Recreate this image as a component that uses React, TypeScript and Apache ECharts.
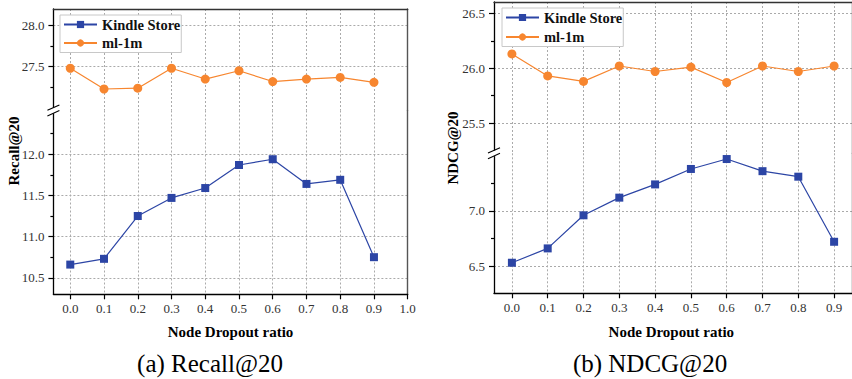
import React, { useEffect, useRef } from "react";
import * as echarts from "echarts";

// ---------- data ----------
const xValues = [0.0, 0.1, 0.2, 0.3, 0.4, 0.5, 0.6, 0.7, 0.8, 0.9];
const xTicksLeft = [0.0, 0.1, 0.2, 0.3, 0.4, 0.5, 0.6, 0.7, 0.8, 0.9, 1.0];
const xTicksRight = [0.0, 0.1, 0.2, 0.3, 0.4, 0.5, 0.6, 0.7, 0.8, 0.9];

const recallKindle = [10.66, 10.73, 11.25, 11.47, 11.59, 11.87, 11.94, 11.64, 11.69, 10.75];
const recallMl = [27.48, 27.23, 27.24, 27.48, 27.35, 27.45, 27.32, 27.35, 27.37, 27.31];
const ndcgKindle = [6.53, 6.66, 6.96, 7.12, 7.24, 7.38, 7.47, 7.36, 7.31, 6.72];
const ndcgMl = [26.13, 25.93, 25.88, 26.02, 25.97, 26.01, 25.87, 26.02, 25.97, 26.02];

const recallUpperTicks = [27.5, 28.0];
const recallUpperMinor = [27.25, 27.75];
const recallLowerTicks = [10.5, 11.0, 11.5, 12.0];
const recallLowerMinor = [10.75, 11.25, 11.75, 12.25];
const ndcgUpperTicks = [25.5, 26.0, 26.5];
const ndcgUpperMinor = [25.75, 26.25];
const ndcgLowerTicks = [6.5, 7.0];
const ndcgLowerMinor = [6.75, 7.25];

const seriesNames = ["Kindle Store", "ml-1m"];
const xName = "Node Dropout ratio";
const yNames = ["Recall@20", "NDCG@20"];
const captions = ["(a) Recall@20", "(b) NDCG@20"];

// ---------- style ----------
const BLUE = "#2c45a5";
const ORANGE = "#f7862f";
const SERIF = "Liberation Serif";

// layout (pixels)
const L = { left: 53.4, width: 354.3, top: 9, brk: 110.5, bottom: 294.3 };
const R = { left: 494, width: 360.7, top: 2, brk: 153.3, bottom: 293.3 };

function xAxisPair(gridUpper: number, gridLower: number, max: number, ticks: number[]) {
  const common = {
    type: "value",
    min: -0.05,
    max,
  };
  return [
    {
      ...common,
      gridIndex: gridUpper,
      position: "top",
      axisLine: { show: true, onZero: false, lineStyle: { color: "#333", width: 1.4 } },
      axisTick: { show: false, customValues: ticks },
      axisLabel: { show: false, customValues: ticks },
      splitLine: { show: true, lineStyle: { color: "#aaa", type: [2, 2], width: 1 } },
    },
    {
      ...common,
      gridIndex: gridLower,
      position: "bottom",
      axisLine: { show: true, onZero: false, lineStyle: { color: "#000", width: 1.3 } },
      axisTick: { show: true, customValues: ticks, length: 5, lineStyle: { color: "#000", width: 1.2 } },
      axisLabel: {
        show: true,
        customValues: ticks,
        margin: 8,
        formatter: (v: number) => v.toFixed(1),
        fontFamily: SERIF,
        fontSize: 13,
        color: "#333",
      },
      splitLine: { show: true, lineStyle: { color: "#aaa", type: [2, 2], width: 1 } },
    },
  ];
}

function yAxisSet(grid: number, min: number, max: number, major: number[], minor: number[]) {
  return [
    {
      gridIndex: grid,
      type: "value",
      min,
      max,
      position: "left",
      axisLine: { show: true, onZero: false, lineStyle: { color: "#000", width: 1.3 } },
      axisTick: { show: true, customValues: major, length: 5, lineStyle: { color: "#000", width: 1.2 } },
      axisLabel: {
        show: true,
        customValues: major,
        margin: 9,
        formatter: (v: number) => v.toFixed(1),
        fontFamily: SERIF,
        fontSize: 13,
        color: "#333",
      },
      splitLine: { show: true, lineStyle: { color: "#aaa", type: [2, 2], width: 1 } },
    },
    {
      gridIndex: grid,
      type: "value",
      min,
      max,
      position: "left",
      axisLine: { show: false, onZero: false },
      axisTick: { show: true, customValues: minor, length: 3, lineStyle: { color: "#000", width: 1.2 } },
      axisLabel: { show: false },
      splitLine: { show: false },
    },
    {
      gridIndex: grid,
      type: "value",
      min,
      max,
      position: "right",
      axisLine: { show: true, onZero: false, lineStyle: { color: "#555", width: 1.4 } },
      axisTick: { show: false },
      axisLabel: { show: false },
      splitLine: { show: false },
    },
  ];
}

function breakMark(x: number, c: number) {
  return [
    { type: "rect", shape: { x: x - 2, y: c - 2.8, width: 4, height: 5.6 }, style: { fill: "#fff" }, z: 100 },
    { type: "line", shape: { x1: x - 6, y1: c - 0.2, x2: x + 6, y2: c - 5.6 }, style: { stroke: "#000", lineWidth: 1.1 }, z: 101 },
    { type: "line", shape: { x1: x - 6, y1: c + 5.4, x2: x + 6, y2: c }, style: { stroke: "#000", lineWidth: 1.1 }, z: 101 },
  ];
}

function text(x: number, y: number, t: string, font: string, rotation = 0) {
  return {
    type: "text",
    x,
    y,
    rotation,
    z: 100,
    style: {
      text: t,
      font,
      fill: "#000",
      textAlign: "center",
      textVerticalAlign: "middle",
      align: "center",
      verticalAlign: "middle",
    },
  };
}

function legend(left: number, top: number, gap: number) {
  return {
    orient: "vertical",
    left,
    top,
    itemWidth: 33,
    itemHeight: 9,
    itemGap: gap,
    padding: [2, 1, 2, 3],
    borderColor: "#c8c8c8",
    borderWidth: 1,
    backgroundColor: "#fff",
    data: seriesNames,
    textStyle: { fontFamily: SERIF, fontWeight: "bold", fontSize: 14.5, color: "#111" },
  };
}

function lineSeries(name: string, xi: number, yi: number, values: number[], color: string, symbol: string, size: number) {
  return {
    type: "line",
    name,
    xAxisIndex: xi,
    yAxisIndex: yi,
    data: xValues.map((x, i) => [x, values[i]]),
    symbol,
    symbolSize: size,
    lineStyle: { color, width: 1.2 },
    itemStyle: { color },
    z: 5,
  };
}

export default function App() {
  const ref = useRef<HTMLDivElement>(null);
  useEffect(() => {
    if (!ref.current) return;
    const chart = echarts.init(ref.current, null, { renderer: "svg" });

    const grids = [
      { left: L.left, width: L.width, top: L.top, height: L.brk - L.top },
      { left: L.left, width: L.width, top: L.brk, height: L.bottom - L.brk },
      { left: R.left, width: R.width, top: R.top, height: R.brk - R.top },
      { left: R.left, width: R.width, top: R.brk, height: R.bottom - R.brk },
    ];

    const xAxis = [
      ...xAxisPair(0, 1, 1.0, xTicksLeft),
      ...xAxisPair(2, 3, 0.95, xTicksRight),
    ];

    const yAxis = [
      ...yAxisSet(0, 26.971, 28.194, recallUpperTicks, recallUpperMinor), // 0,1,2
      ...yAxisSet(1, 10.299, 12.532, recallLowerTicks, recallLowerMinor), // 3,4,5
      ...yAxisSet(2, 25.225, 26.603, ndcgUpperTicks, ndcgUpperMinor), // 6,7,8
      ...yAxisSet(3, 6.253, 7.522, ndcgLowerTicks, ndcgLowerMinor), // 9,10,11
    ];

    const series = [
      lineSeries(seriesNames[0], 1, 3, recallKindle, BLUE, "rect", 8),
      lineSeries(seriesNames[1], 0, 0, recallMl, ORANGE, "circle", 9),
      lineSeries(seriesNames[0], 3, 9, ndcgKindle, BLUE, "rect", 8),
      lineSeries(seriesNames[1], 2, 6, ndcgMl, ORANGE, "circle", 9),
    ];

    const boldFont = `bold 15px "${SERIF}"`;
    const capFont = `25px "${SERIF}"`;
    const graphic = [
      ...breakMark(L.left, L.brk),
      ...breakMark(R.left, R.brk),
      text(14, 151, yNames[0], boldFont, Math.PI / 2),
      text(453, 148, yNames[1], boldFont, Math.PI / 2),
      text(L.left + L.width / 2, 332, xName, boldFont),
      text(R.left + R.width / 2 - 3, 332, xName, boldFont),
      text(210, 363, captions[0], capFont),
      text(650, 363, captions[1], capFont),
    ];

    chart.setOption({
      animation: false,
      backgroundColor: "#fff",
      grid: grids,
      xAxis,
      yAxis,
      legend: [legend(60, 15, 3.5), legend(502, 8, 4.5)],
      series,
      graphic,
    });
    return () => chart.dispose();
  }, []);

  return (
    <div
      ref={ref}
      style={{ position: "absolute", left: 0, top: 0, width: 852, height: 379 }}
    />
  );
}
